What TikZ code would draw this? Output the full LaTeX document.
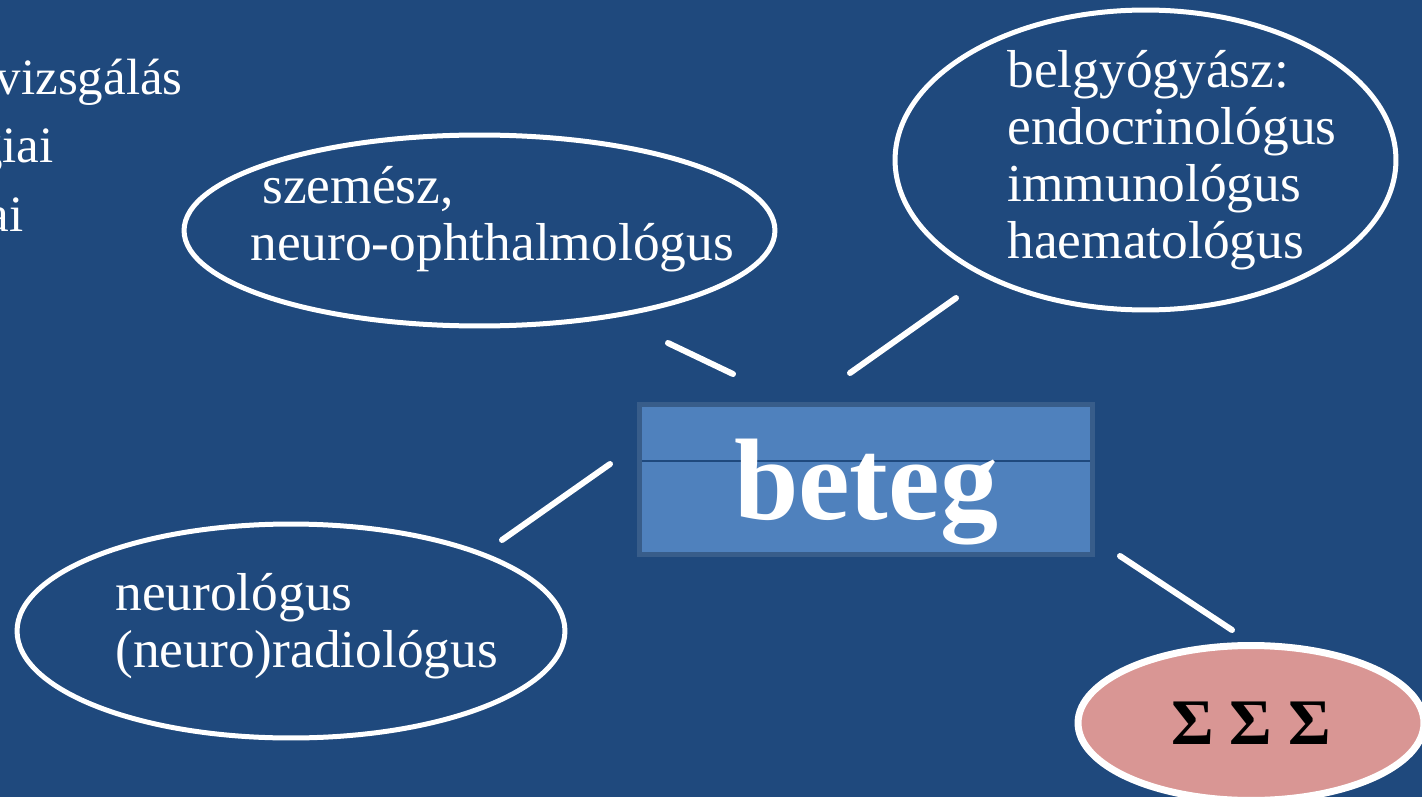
\documentclass[tikz,border=0pt]{standalone}
\usepackage{fontspec}
\setmainfont{Liberation Serif}
\usetikzlibrary{shapes.geometric}
\definecolor{slideblue}{HTML}{1F497D}
\definecolor{boxblue}{HTML}{4F81BD}
\definecolor{boxedge}{HTML}{385D8A}
\definecolor{rosy}{HTML}{D99694}
\tikzstyle{bubble}=[ellipse, draw=white, line width=0.1cm, inner sep=0pt]
\tikzstyle{bubbletext}=[text=white, align=left, inner sep=0pt, anchor=base west,
    font=\fontsize{30.4}{32.4}\selectfont]
\tikzstyle{listtext}=[text=white, inner sep=0pt, anchor=base east,
    font=\fontsize{29}{32}\selectfont]
\tikzstyle{spoke}=[draw=white, line width=0.12cm, line cap=round]
\newcommand{\bubble}{\node[bubble]}

\begin{document}
\begin{tikzpicture}[x=0.02cm, y=-0.02cm]
\fill[slideblue] (0,0) rectangle (1422,797);
\useasboundingbox (0,0) rectangle (1422,797);
% list behind, cut at the edge
\node[listtext] (list1) at (183,95)  {vizsgálás};
\node[listtext] (list2) at (54,163)  {giai};
\node[listtext] (list3) at (24,232)  {ai};
% the specialists
\bubble[minimum width=11.82cm, minimum height=3.82cm] (szem) at (479.5,230.5) {};
\bubble[minimum width=10.02cm, minimum height=6cm] (belgy) at (1145.5,160) {};
\bubble[minimum width=10.96cm, minimum height=4.28cm] (neuro) at (291,631) {};
% base of a multi-line node is its last line
\node[bubbletext] (szem-txt) at (250,260) {\hspace*{0.24cm}szemész,\\neuro-ophthalmológus};
\node[bubbletext] (belgy-txt) at (1007,258) {belgyógyász:\\endocrinológus\\immunológus\\haematológus};
\node[bubbletext] (neuro-txt) at (115,667) {neurológus\\(neuro)radiológus};
% the patient
\node[rectangle, fill=boxblue, draw=boxedge, line width=0.1cm, inner sep=0pt,
      minimum width=9.06cm, minimum height=3cm, text=white, text depth=0pt,
      font=\fontsize{66}{70}\selectfont\bfseries,
      path picture={\draw[slideblue, line width=0.03cm]
          ([yshift=-1.13cm]path picture bounding box.north west) --
          ([yshift=-1.13cm]path picture bounding box.north east);}]
    (beteg) at (866,479.5) {beteg};
\node[ellipse, fill=rosy, draw=white, line width=0.14cm, inner sep=0pt,
      minimum width=6.92cm, minimum height=3.1cm,
      font=\fontsize{37}{40}\selectfont\bfseries] (sum) at (1251,723) {Σ Σ Σ};
\coordinate (s1) at (668,343);  \coordinate (s2) at (733,374);
\coordinate (b1) at (850,373);  \coordinate (b2) at (956,298);
\coordinate (n1) at (610,464);  \coordinate (n2) at (502,540);
\coordinate (e1) at (1120,556); \coordinate (e2) at (1232,630);
\path[spoke] (s1) -- (s2)
             (b1) -- (b2)
             (n1) -- (n2)
             (e1) -- (e2);
\end{tikzpicture}
\end{document}
